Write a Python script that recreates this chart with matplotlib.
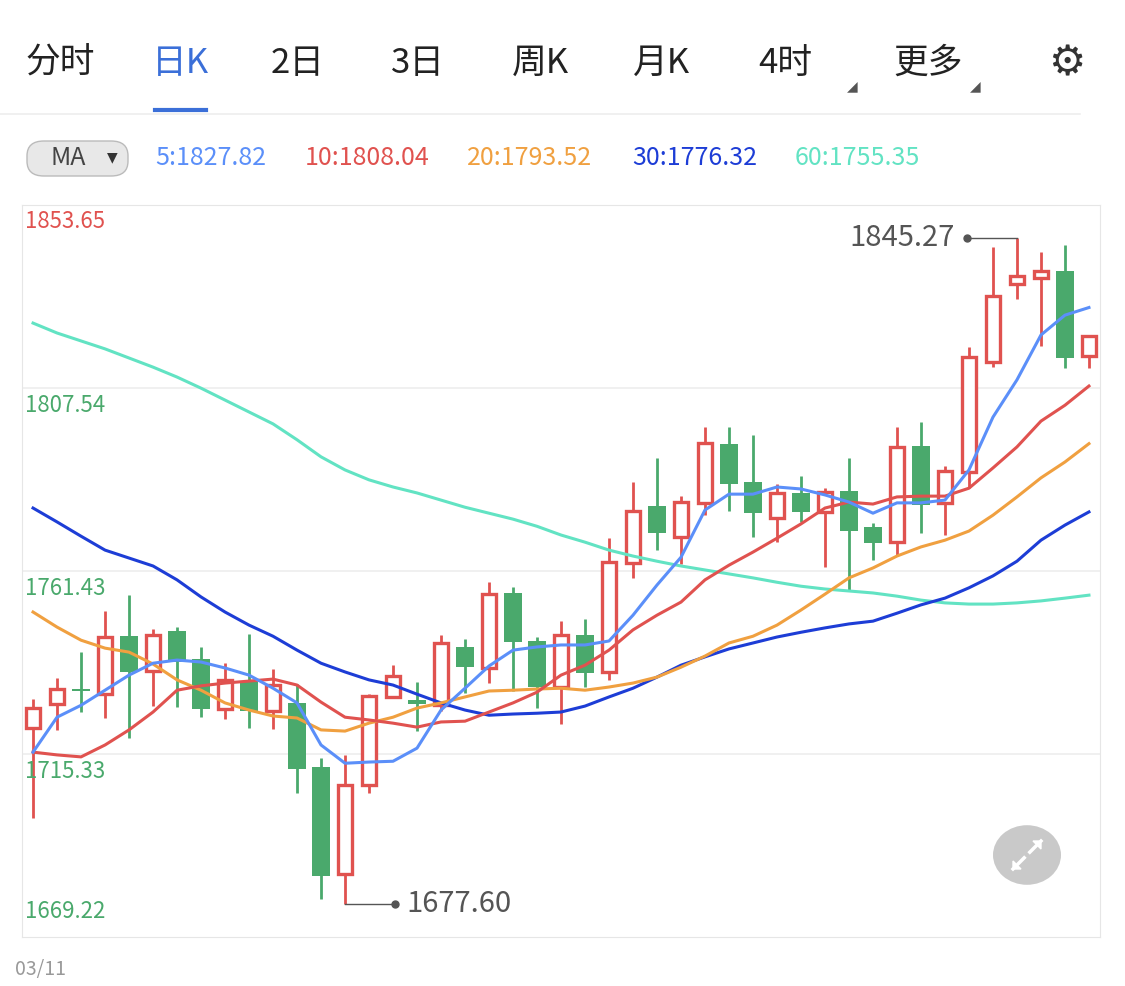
import matplotlib
matplotlib.use("Agg")
import matplotlib.pyplot as plt
from matplotlib.patches import FancyBboxPatch, Circle
import numpy as np

plt.rcParams['font.family'] = ['Noto Sans CJK SC', 'DejaVu Sans']

opens  = [1721.9,1727.9,1731.7,1730.4,1745.0,1736.2,1746.3,1739.2,1726.6,1733.4,1726.1,1728.2,1712.0,1685.1,1707.5,1729.7,1728.9,1727.6,1742.3,1737.0,1755.9,1743.8,1732.2,1745.3,1736.0,1763.4,1777.8,1770.0,1778.6,1793.4,1783.9,1774.8,1781.1,1776.3,1781.6,1772.5,1768.7,1792.9,1778.6,1786.4,1814.1,1833.7,1835.3,1837.0,1815.6]
highs  = [1729.2,1734.5,1741.0,1751.3,1755.4,1746.8,1747.3,1742.3,1738.2,1745.5,1736.7,1732.9,1714.3,1715.1,1730.4,1737.7,1733.4,1745.3,1744.3,1758.6,1757.4,1744.8,1748.8,1749.3,1769.7,1783.9,1789.9,1780.3,1797.7,1797.7,1795.7,1783.3,1785.4,1782.3,1789.9,1773.5,1797.7,1799.0,1787.9,1817.9,1843.1,1845.27,1841.8,1843.6,1820.6]
lows   = [1699.2,1721.4,1725.9,1724.4,1719.3,1727.4,1727.1,1724.6,1724.1,1721.9,1721.6,1705.5,1678.8,1677.60,1705.5,1729.5,1721.1,1726.1,1730.7,1733.2,1731.2,1726.9,1722.9,1732.2,1734.0,1759.7,1766.7,1763.2,1775.5,1776.5,1770.0,1768.7,1773.8,1762.4,1756.4,1764.2,1765.5,1771.0,1770.5,1782.3,1812.8,1830.0,1818.1,1812.6,1812.6]
closes = [1726.9,1731.7,1731.2,1744.8,1736.0,1745.3,1738.5,1726.6,1734.0,1726.1,1732.7,1711.5,1684.6,1707.5,1729.9,1735.0,1727.9,1743.3,1737.2,1755.6,1743.5,1732.2,1745.3,1735.7,1763.7,1776.5,1771.0,1778.8,1793.7,1783.3,1776.0,1781.1,1776.3,1781.3,1771.5,1768.5,1792.7,1778.1,1786.6,1815.3,1830.7,1835.8,1837.0,1815.1,1820.6]

ma5  = [1715.8,1724.6,1727.6,1731.4,1735.2,1738.2,1739.0,1738.5,1737.0,1735.2,1731.9,1728.2,1717.6,1713.0,1713.3,1713.5,1716.8,1726.4,1731.9,1737.5,1741.5,1742.3,1742.8,1742.8,1743.8,1750.3,1757.9,1764.9,1776.8,1780.8,1780.8,1782.6,1782.1,1780.6,1778.8,1776.0,1778.6,1778.6,1779.3,1786.9,1800.2,1809.6,1820.9,1825.9,1827.82]
ma10 = [1715.8,1715.1,1714.6,1717.6,1721.4,1725.9,1731.4,1732.5,1733.2,1733.7,1734.2,1732.7,1728.4,1724.6,1723.9,1723.1,1722.1,1723.4,1723.6,1725.9,1728.2,1730.9,1735.2,1737.7,1741.5,1746.6,1750.3,1753.6,1759.2,1762.9,1766.2,1769.7,1773.3,1777.3,1778.8,1778.3,1780.1,1780.3,1780.3,1782.3,1787.4,1792.7,1799.2,1803.2,1808.04]
ma20 = [1751.1,1747.3,1744.0,1742.0,1741.0,1738.0,1734.0,1731.4,1728.2,1726.4,1724.9,1724.4,1721.4,1721.1,1723.1,1724.6,1726.9,1728.2,1729.7,1731.2,1731.4,1731.7,1731.9,1731.4,1732.2,1733.2,1734.7,1737.2,1740.0,1743.3,1745.0,1747.8,1751.6,1755.6,1759.7,1762.2,1765.2,1767.5,1769.2,1771.5,1775.5,1780.1,1784.9,1788.9,1793.52]
ma30 = [1777.3,1773.8,1770.2,1766.7,1764.7,1762.7,1759.2,1754.9,1751.1,1747.8,1745.0,1741.5,1738.2,1736.0,1734.0,1732.7,1730.4,1728.2,1726.4,1725.1,1725.4,1725.6,1725.9,1727.4,1729.7,1731.9,1734.7,1737.7,1739.8,1741.8,1743.3,1744.8,1746.0,1747.1,1748.1,1748.8,1750.8,1752.9,1754.6,1757.2,1760.2,1763.9,1769.2,1773.0,1776.32]
ma60 = [1823.9,1821.4,1819.4,1817.4,1815.1,1812.8,1810.3,1807.5,1804.5,1801.5,1798.5,1794.5,1790.2,1786.9,1784.4,1782.6,1781.1,1779.3,1777.5,1776.0,1774.5,1772.7,1770.5,1768.7,1766.7,1765.2,1763.9,1762.7,1761.7,1760.7,1759.7,1758.6,1757.6,1756.9,1756.4,1755.9,1755.1,1754.1,1753.4,1753.1,1753.1,1753.4,1753.9,1754.6,1755.35]

y_ticks = [1853.65, 1807.54, 1761.43, 1715.33, 1669.22]
tabs = ["分时", "日K", "2日", "3日", "周K", "月K", "4时", "更多"]
ma_labels = ["5:1827.82", "10:1808.04", "20:1793.52", "30:1776.32", "60:1755.35"]
max_label, min_label = "1845.27", "1677.60"
date_label = "03/11"

RED, GREEN = "#e0524f", "#4aa96c"
MA_COLORS = ["#5b8ff9", "#e0524f", "#f0a040", "#1d3dd6", "#62e3c3"]

W, H = 1125, 986
fig = plt.figure(figsize=(W/100, H/100), dpi=100)
fig.patch.set_facecolor("white")

def fx(px): return px / W
def fy(py): return 1 - py / H

# header
tab_x = [60, 180, 298, 418, 540, 662, 785, 928]
for t, x in zip(tabs, tab_x):
    fig.text(fx(x), fy(63), t, fontsize=25, ha="center", va="center",
             color="#3b6fd8" if t == "日K" else "#222222")
fig.text(fx(1067), fy(63), "⚙", fontsize=30, ha="center", va="center", color="#333333",
         family="DejaVu Sans")
for tx in [852, 975]:
    fig.text(fx(tx), fy(86), "◢", fontsize=10, ha="center", va="center", color="#555555",
             family="DejaVu Sans")
fig.add_artist(plt.Line2D([fx(155), fx(206)], [fy(110), fy(110)], color="#3b6fd8", lw=3))
fig.add_artist(plt.Line2D([0, fx(1080)], [fy(114), fy(114)], color="#eeeeee", lw=1.2))

# MA pill
pill = FancyBboxPatch((fx(27), fy(176)), fx(101), fy(141) - fy(176),
                      boxstyle="round,pad=0,rounding_size=0.015", transform=fig.transFigure,
                      facecolor="#e8e8e8", edgecolor="#bbbbbb", lw=1)
fig.add_artist(pill)
fig.text(fx(68), fy(158), "MA", fontsize=18, ha="center", va="center", color="#444444")
fig.text(fx(112), fy(157), "▼", fontsize=10, ha="center", va="center", color="#333333",
         family="DejaVu Sans")
for lab, x, c in zip(ma_labels, [155, 305, 467, 632, 795], MA_COLORS):
    fig.text(fx(x), fy(158), lab, fontsize=18, ha="left", va="center", color=c)

# main axes
ax = fig.add_axes([fx(22), fy(937), fx(1100) - fx(22), fy(205) - fy(937)])
ax.set_ylim(y_ticks[-1], y_ticks[0])
n = len(opens)
x = np.arange(n)
ax.set_xlim(-0.46, n - 0.54)
for s in ax.spines.values():
    s.set_color("#e6e6e6")
ax.set_xticks([]); ax.set_yticks([])
for yv in y_ticks[1:-1]:
    ax.axhline(yv, color="#eeeeee", lw=1.2, zorder=0)

for i in range(n):
    o, h, l, c = opens[i], highs[i], lows[i], closes[i]
    up = c >= o
    col = RED if up else GREEN
    ax.vlines(i, l, h, color=col, lw=2, zorder=2)
    bot, top = min(o, c), max(o, c)
    hgt = max(top - bot, 0.5)
    if up:
        ax.bar(i, hgt, bottom=bot, width=0.62, facecolor="white", edgecolor=col, lw=2.4, zorder=3)
    else:
        ax.bar(i, hgt, bottom=bot, width=0.72, color=col, lw=0, zorder=3)

for data, c in zip([ma60, ma30, ma20, ma10, ma5], MA_COLORS[::-1]):
    ax.plot(x, data, color=c, lw=2.2, zorder=4, solid_joinstyle="round")

tick_cols = [RED, GREEN, GREEN, GREEN, GREEN]
tick_off = [-17, -17, -17, -18, 26]
for yv, col, off in zip(y_ticks, tick_cols, tick_off):
    ax.annotate(f"{yv:.2f}", (0.003, yv), xycoords=("axes fraction", "data"),
                xytext=(0, off), textcoords="offset pixels", fontsize=16,
                color=col, ha="left", va="center", zorder=5)

# max/min annotations
imax = int(np.argmax(highs)); imin = int(np.argmin(lows))
ax.plot([imax - 2.1, imax], [highs[imax], highs[imax]], color="#555555", lw=1, zorder=5)
ax.plot([imax - 2.1], [highs[imax]], "o", color="#555555", ms=5, zorder=5)
ax.annotate(max_label, (imax - 2.1, highs[imax]), xytext=(-12, 0), textcoords="offset pixels",
            fontsize=21, color="#555555", ha="right", va="center")
ax.plot([imin, imin + 2.1], [lows[imin], lows[imin]], color="#555555", lw=1, zorder=5)
ax.plot([imin + 2.1], [lows[imin]], "o", color="#555555", ms=5, zorder=5)
ax.annotate(min_label, (imin + 2.1, lows[imin]), xytext=(11, 0), textcoords="offset pixels",
            fontsize=21, color="#555555", ha="left", va="center")

# expand button (drawn icon)
circ = Circle((fx(1027), fy(855)), 34 / W, transform=fig.transFigure,
              facecolor="#c9c9c9", edgecolor="none")
fig.add_artist(circ)
for (x0, y0, x1, y1) in [(1027, 855, 1041, 841), (1027, 855, 1013, 869)]:
    fig.add_artist(plt.Line2D([fx(x0 + (x1 - x0) * 0.2), fx(x1)], [fy(y0 + (y1 - y0) * 0.2), fy(y1)],
                              color="white", lw=2.5))
    fig.add_artist(plt.Polygon([[fx(x1), fy(y1)],
                                [fx(x1 - 8 * np.sign(x1 - x0)), fy(y1)],
                                [fx(x1), fy(y1 - 8 * np.sign(y1 - y0))]],
                               closed=True, color="white", transform=fig.transFigure))

fig.text(fx(15), fy(970), date_label, fontsize=14, ha="left", va="center", color="#999999")

fig.savefig("out.png", dpi=100, facecolor="white")
